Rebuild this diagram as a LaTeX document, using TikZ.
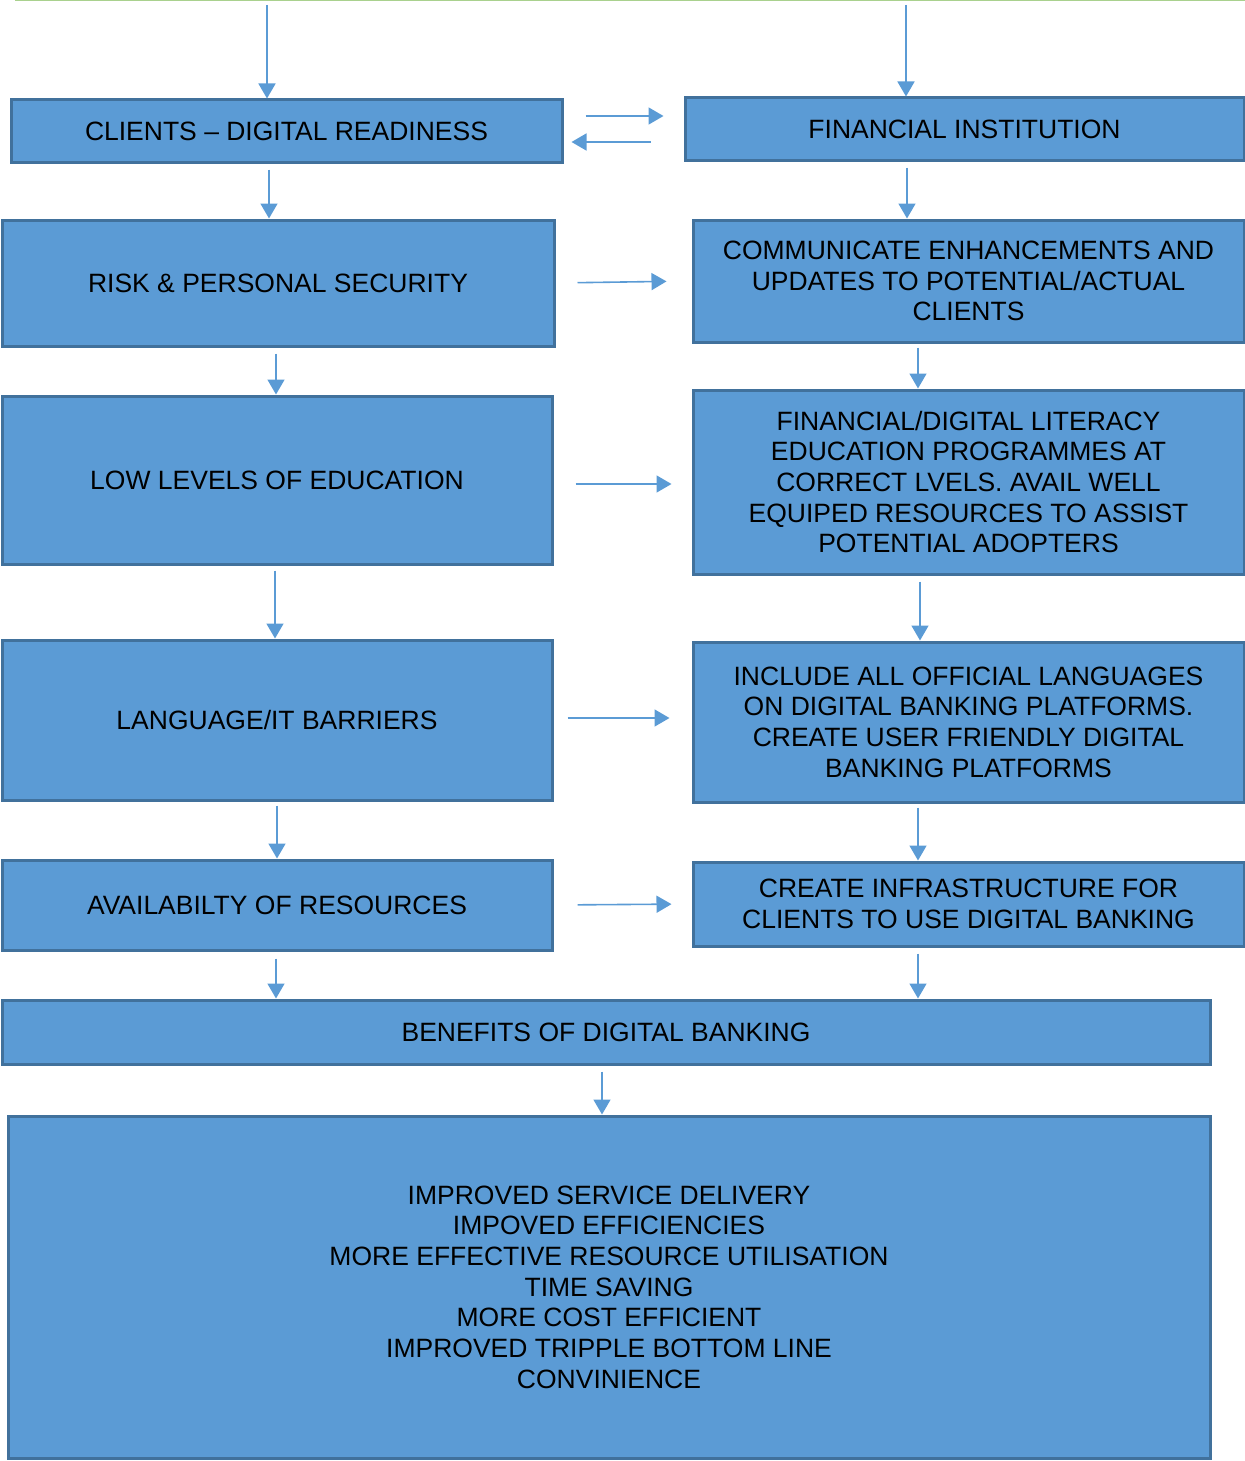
\documentclass[tikz,border=0pt]{standalone}
\usepackage{fontspec}
\setmainfont{Liberation Sans}
\usetikzlibrary{arrows.meta, calc}
\definecolor{boxblue}{HTML}{5B9BD5}
\definecolor{boxedge}{HTML}{41719C}
\definecolor{topgreen}{HTML}{A9D18E}
\tikzset{
  box/.style={
    draw=boxedge,
    fill=boxblue,
    line width=1.5pt,
    inner sep=0pt,
    align=center,
    font=\fontsize{13.25}{15.35}\selectfont
  },
  flow/.style={
    -{Triangle[length=7.5pt,width=8.5pt]},
    line width=0.8pt,
    color=boxblue
  }
}
\begin{document}
\begin{tikzpicture}[x=0.5pt, y=-0.5pt]
    \useasboundingbox (0,0) rectangle (1245,1461);

    % top rule
    \draw[topgreen, line width=1pt] (15,0.5) -- (1245,0.5);

    % left column
    \node[box, minimum width=275.5pt, minimum height=31pt] (cli) at (286.5,131) {CLIENTS – DIGITAL READINESS};
    \node[box, minimum width=276pt, minimum height=63pt] (risk) at (278,283) {RISK \& PERSONAL SECURITY};
    \node[box, minimum width=275pt, minimum height=84pt] (low) at (277,480) {LOW LEVELS OF EDUCATION};
    \node[box, minimum width=275pt, minimum height=80pt] (lang) at (277,720) {LANGUAGE/IT BARRIERS};
    \node[box, minimum width=275pt, minimum height=45pt] (avail) at (277,905) {AVAILABILTY OF RESOURCES};

    % right column
    \node[box, minimum width=279.5pt, minimum height=31pt] (fin) at (964.5,129) {FINANCIAL INSTITUTION};
    \node[box, minimum width=275.5pt, minimum height=61pt] (comm) at (968.5,281) {COMMUNICATE ENHANCEMENTS AND\\UPDATES TO POTENTIAL/ACTUAL\\CLIENTS};
    \node[box, minimum width=275.5pt, minimum height=92pt] (lit) at (968.5,482) {FINANCIAL/DIGITAL LITERACY\\EDUCATION PROGRAMMES AT\\CORRECT LVELS. AVAIL WELL\\EQUIPED RESOURCES TO ASSIST\\POTENTIAL ADOPTERS};
    \node[box, minimum width=275.5pt, minimum height=80pt] (incl) at (968.5,722) {INCLUDE ALL OFFICIAL LANGUAGES\\ON DIGITAL BANKING PLATFORMS.\\CREATE USER FRIENDLY DIGITAL\\BANKING PLATFORMS};
    \node[box, minimum width=275.5pt, minimum height=42pt] (infra) at (968.5,904) {CREATE INFRASTRUCTURE FOR\\CLIENTS TO USE DIGITAL BANKING};

    % bottom
    \node[box, minimum width=604pt, minimum height=32pt] (ben) at (606,1032) {BENEFITS OF DIGITAL BANKING};
    \node[box, minimum width=601pt, minimum height=171pt] (gain) at (609,1287) {IMPROVED SERVICE DELIVERY\\IMPOVED EFFICIENCIES\\MORE EFFECTIVE RESOURCE UTILISATION\\TIME SAVING\\MORE COST EFFICIENT\\IMPROVED TRIPPLE BOTTOM LINE\\CONVINIENCE};

    % incoming arrows
    \coordinate (inL) at (267,5);
    \coordinate (inR) at (906,5);
    \draw[flow] (inL) -- (inL |- cli.north);
    \draw[flow] (inR) -- (inR |- fin.north);

    % between the two top boxes
    \draw[flow, shorten <=11pt, shorten >=10pt] ($(cli.east)+(0,-15)$) -- ($(fin.west)+(0,-13)$);
    \draw[flow, shorten <=16.5pt, shorten >=4pt] ($(fin.west)+(0,13)$) -- ($(cli.east)+(0,11)$);

    % left column downwards
    \draw[flow, shorten <=3pt] ($(cli.south)+(-17.5,0)$) -- ($(risk.north)+(-9,0)$);
    \draw[flow, shorten <=3pt] ($(risk.south)+(-2,0)$) -- ($(low.north)+(-1,0)$);
    \draw[flow, shorten <=2.5pt] ($(low.south)+(-2,0)$) -- ($(lang.north)+(-2,0)$);
    \draw[flow, shorten <=2pt] (lang.south) -- (avail.north);
    \draw[flow, shorten <=3.5pt] ($(avail.south)+(-1,0)$) -- ($(ben.north)+(-330,0)$);

    % right column downwards
    \draw[flow, shorten <=3pt] ($(fin.south)+(-57.5,0)$) -- ($(comm.north)+(-61.5,0)$);
    \draw[flow, shorten <=2pt] ($(comm.south)+(-50.5,0)$) -- ($(lit.north)+(-50.5,0)$);
    \draw[flow, shorten <=3pt] ($(lit.south)+(-48.5,0)$) -- ($(incl.north)+(-48.5,0)$);
    \draw[flow, shorten <=2pt] ($(incl.south)+(-50.5,0)$) -- ($(infra.north)+(-50.5,0)$);
    \draw[flow, shorten <=3pt] ($(infra.south)+(-50.5,0)$) -- ($(ben.north)+(312,0)$);

    % left to right
    \draw[flow, shorten <=11pt, shorten >=12.5pt] (risk.east) -- (comm.west);
    \draw[flow, shorten <=11pt, shorten >=10pt] ($(low.east)+(0,4)$) -- ($(lit.west)+(0,2)$);
    \draw[flow, shorten <=7pt, shorten >=11pt] ($(lang.east)+(0,-2)$) -- ($(incl.west)+(0,-4)$);
    \draw[flow, shorten <=12pt, shorten >=10pt] (avail.east) -- (infra.west);

    % benefits to list
    \draw[flow, shorten <=3pt] ($(ben.south)+(-4,0)$) -- ($(gain.north)+(-7,0)$);

  \end{tikzpicture}
\end{document}
